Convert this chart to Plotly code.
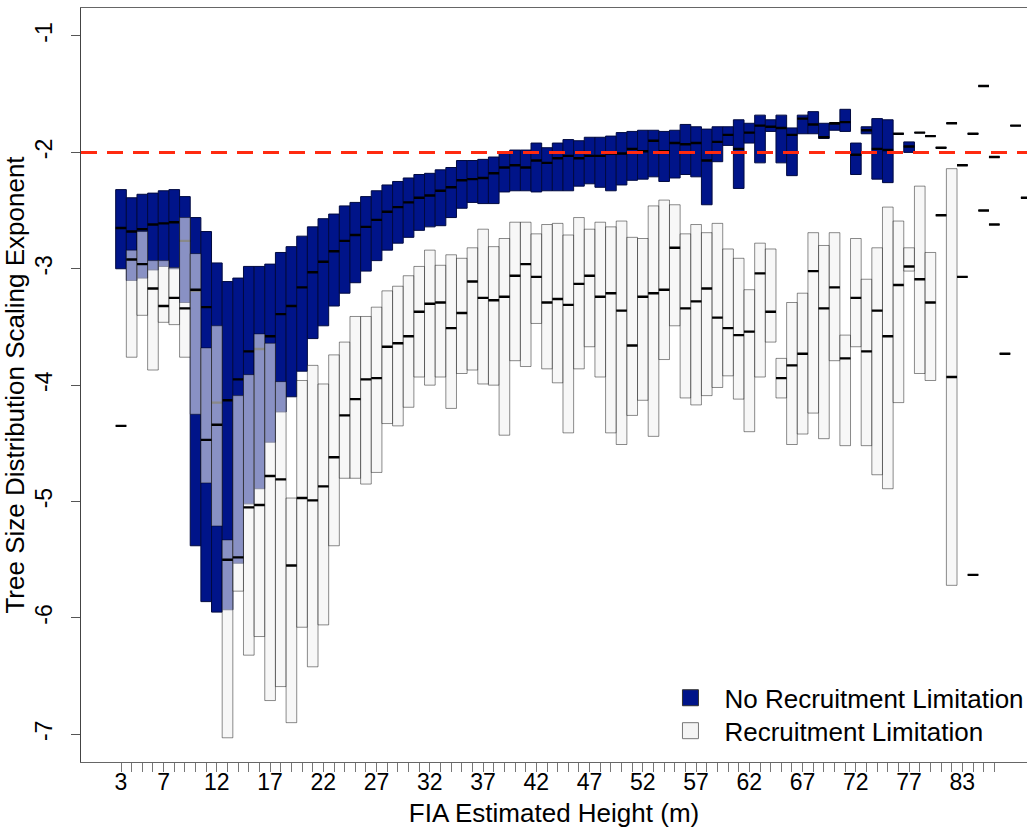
import plotly.graph_objects as go

# Box positions along the height axis (one per height class)
positions = list(range(1, 87))
tick_positions = list(range(1, 84))
label_positions = [1, 5, 10, 15, 20, 25, 30, 35, 40, 45, 50, 55, 60, 65, 70, 75, 80]
label_text = ["3", "7", "12", "17", "22", "27", "32", "37", "42", "47",
              "52", "57", "62", "67", "72", "77", "83"]

# No recruitment limitation: upper quartile, median, lower quartile
blue_hi = [
    -2.32, -2.39, -2.36, -2.35, -2.33, -2.32, -2.38, -2.56, -2.68, -2.95,
    -3.11, -3.08, -2.98, -2.98, -2.96, -2.86, -2.81, -2.72, -2.64, -2.57,
    -2.53, -2.46, -2.43, -2.38, -2.33, -2.28, -2.25, -2.22, -2.19, -2.18,
    -2.15, -2.13, -2.07, -2.07, -2.06, -2.04, -2.01, -1.98, -1.98, -1.92,
    -1.96, -1.92, -1.89, -1.90, -1.87, -1.87, -1.86, -1.83, -1.82, -1.81,
    -1.81, -1.82, -1.81, -1.76, -1.78, -1.80, -1.78, -1.78, -1.72, -1.75,
    -1.68, -1.72, -1.68, -1.79, -1.68, -1.65, -1.75, -1.75, -1.63, -1.92,
    -1.78, -1.71, -1.72, -1.84, -1.91, -1.83, -1.86, -1.96, -1.75, -2.11,
    -1.84, -1.43, -2.04, None, -1.77, -2.39]
blue_med = [
    -2.65, -2.68, -2.66, -2.62, -2.61, -2.60, -2.76, -3.19, -3.33, -4.15,
    -4.13, -3.95, -3.71, -3.69, -3.58, -3.39, -3.32, -3.16, -3.03, -2.94,
    -2.85, -2.76, -2.71, -2.64, -2.58, -2.51, -2.47, -2.43, -2.39, -2.37,
    -2.33, -2.30, -2.24, -2.23, -2.22, -2.18, -2.13, -2.11, -2.13, -2.07,
    -2.09, -2.05, -2.03, -2.05, -2.03, -2.03, -2.01, -2.01, -1.97, -1.99,
    -1.90, -1.99, -1.92, -1.93, -1.92, -2.07, -1.91, -1.85, -1.97, -1.83,
    -1.77, -1.78, -1.79, -1.85, -1.71, -1.76, -1.87, -1.75, -1.74, -2.02,
    -1.81, -1.97, -1.98, -1.84, -1.95, -1.83, -1.86, -1.96, -1.75, -2.11,
    -1.84, -1.43, -2.04, None, -1.77, -2.39]
blue_lo = [
    -3.00, -3.10, -3.08, -3.01, -2.98, -3.00, -3.29, -5.38, -5.86, -5.95,
    -5.93, -5.53, -5.02, -4.89, -4.49, -4.23, -4.10, -3.88, -3.60, -3.49,
    -3.32, -3.21, -3.12, -3.02, -2.93, -2.84, -2.78, -2.73, -2.67, -2.64,
    -2.63, -2.56, -2.48, -2.43, -2.44, -2.44, -2.34, -2.33, -2.33, -2.34,
    -2.33, -2.33, -2.33, -2.29, -2.27, -2.30, -2.33, -2.28, -2.24, -2.23,
    -2.21, -2.25, -2.22, -2.19, -2.21, -2.45, -2.08, -1.94, -2.31, -1.92,
    -2.09, -1.82, -2.09, -2.20, -1.84, -1.84, -1.88, -1.81, -1.82, -2.19,
    -1.84, -2.23, -2.26, -1.84, -2.00, -1.83, -1.86, -1.96, -1.75, -2.11,
    -1.84, -1.43, -2.04, None, -1.77, -2.39]

# Recruitment limitation: upper quartile, median, lower quartile
gray_hi = [
    -4.35, -2.84, -2.68, -2.93, -2.93, -2.99, -2.56, -2.87, -3.68, -3.49,
    -5.33, -4.09, -3.91, -3.56, -3.64, -3.97, -4.97, -3.96, -3.83, -3.99,
    -3.74, -3.63, -3.41, -3.41, -3.33, -3.19, -3.15, -3.06, -2.98, -2.84,
    -2.97, -2.88, -2.91, -2.82, -2.66, -2.81, -2.74, -2.60, -2.60, -2.70,
    -2.62, -2.61, -2.71, -2.56, -2.66, -2.60, -2.64, -2.59, -2.73, -2.74,
    -2.46, -2.41, -2.45, -2.70, -2.62, -2.69, -2.61, -2.83, -2.91, -3.18,
    -2.78, -2.83, -3.77, -3.29, -3.21, -2.69, -2.80, -2.69, -3.57, -2.74,
    -3.09, -2.82, -2.47, -2.59, -2.82, -2.29, -2.86, -2.54, -2.14, -3.07,
    -5.63, -2.50, -2.62, -3.73, None, None]
gray_med = [
    -4.35, -2.92, -2.96, -3.17, -3.32, -3.25, -3.34, -3.18, -4.47, -4.34,
    -5.50, -5.48, -5.05, -5.03, -4.78, -4.81, -5.55, -4.97, -4.99, -4.87,
    -4.62, -4.26, -4.12, -3.95, -3.94, -3.67, -3.64, -3.58, -3.37, -3.30,
    -3.29, -3.51, -3.38, -3.11, -3.25, -3.27, -3.24, -3.06, -2.96, -3.07,
    -3.29, -3.26, -3.31, -3.13, -3.06, -3.24, -3.21, -3.36, -3.66, -3.24,
    -3.21, -3.18, -2.82, -3.34, -3.28, -3.17, -3.42, -3.51, -3.57, -3.54,
    -3.04, -3.37, -3.94, -3.83, -3.73, -3.02, -3.34, -3.16, -3.77, -3.25,
    -3.71, -3.36, -3.58, -3.14, -2.98, -3.09, -3.29, -2.54, -3.93, -3.07,
    -5.63, -2.50, -2.62, -3.73, None, None]
gray_lo = [
    -4.35, -3.76, -3.40, -3.87, -3.46, -3.48, -3.76, -4.25, -4.84, -5.21,
    -7.03, -5.77, -6.32, -6.16, -6.71, -6.59, -6.90, -6.08, -6.42, -6.06,
    -5.38, -4.80, -4.80, -4.85, -4.75, -4.33, -4.35, -4.19, -3.93, -4.00,
    -3.93, -4.20, -3.90, -3.87, -3.99, -4.00, -4.43, -3.79, -3.84, -3.47,
    -3.86, -3.98, -4.41, -3.86, -3.67, -3.93, -4.41, -4.51, -4.26, -4.13,
    -4.44, -3.78, -3.49, -4.11, -4.17, -4.09, -4.02, -3.92, -4.12, -4.40,
    -3.93, -3.63, -4.11, -4.51, -4.42, -4.24, -4.46, -3.79, -4.52, -3.67,
    -4.52, -4.77, -4.89, -4.15, -3.02, -3.90, -3.96, -2.54, -5.72, -3.07,
    -5.63, -2.50, -2.62, -3.73, None, None]

reference_exponent = -2
y_ticks = [-1, -2, -3, -4, -5, -6, -7]

NAVY = "#001489"
NAVY_EDGE = "#000a40"
LIGHT_FILL = "rgba(241,241,241,0.57)"
LIGHT_EDGE = "rgba(0,0,0,0.45)"
FONT = "Liberation Sans, Arial, Helvetica, sans-serif"
BOX_W = 1.0


def present(*cols):
    rows = [r for r in zip(positions, *cols) if r[1] is not None]
    return [list(c) for c in zip(*rows)]


def quartile_boxes(hi, med, lo, fill, edge, name):
    x, h, m, l = present(hi, med, lo)
    return go.Box(
        x=x, q1=l, median=m, q3=h, lowerfence=l, upperfence=h,
        orientation="v", width=BOX_W, whiskerwidth=0,
        fillcolor=fill, line=dict(color=edge, width=1),
        name=name, showlegend=False, hoverinfo="skip", boxpoints=False,
    )


def median_bars(med, name):
    x, m = present(med)
    return go.Box(
        x=x, q1=m, median=m, q3=m, lowerfence=m, upperfence=m,
        orientation="v", width=BOX_W, whiskerwidth=0,
        fillcolor="rgba(0,0,0,0)", line=dict(color="#000000", width=2.4),
        name=name, showlegend=False, hoverinfo="skip", boxpoints=False,
    )


fig = go.Figure()
fig.add_trace(quartile_boxes(blue_hi, blue_med, blue_lo, NAVY, NAVY_EDGE, "No Recruitment Limitation"))
fig.add_trace(median_bars(blue_med, "No Recruitment Limitation median"))
fig.add_trace(quartile_boxes(gray_hi, gray_med, gray_lo, LIGHT_FILL, LIGHT_EDGE, "Recruitment Limitation"))
fig.add_trace(median_bars(gray_med, "Recruitment Limitation median"))

# legend entries, one legend each so the row spacing can be set
fig.add_trace(go.Scatter(
    x=[None], y=[None], mode="markers", name="No Recruitment Limitation", legend="legend",
    marker=dict(symbol="square", size=16, color=NAVY, line=dict(color="#333333", width=1)),
))
fig.add_trace(go.Scatter(
    x=[None], y=[None], mode="markers", name="Recruitment Limitation", legend="legend2",
    marker=dict(symbol="square", size=16, color="#f4f4f4", line=dict(color="#777777", width=1)),
))

fig.add_shape(
    type="line", xref="paper", x0=0, x1=1, yref="y",
    y0=reference_exponent, y1=reference_exponent,
    line=dict(color="#ff2a10", width=3, dash="16px,10px"), layer="above",
)

tick_text = [label_text[label_positions.index(p)] if p in label_positions else "" for p in tick_positions]

legend_style = dict(
    xref="container", yref="container", xanchor="left", yanchor="top",
    font=dict(size=26, family=FONT), bgcolor="rgba(0,0,0,0)",
    itemwidth=58, tracegroupgap=0,
)

fig.update_layout(
    width=1027, height=828,
    margin=dict(l=81, r=0, t=8, b=66, pad=0, autoexpand=False),
    paper_bgcolor="white", plot_bgcolor="white",
    font=dict(family=FONT, color="#000000"),
    boxmode="overlay",
    legend=dict(x=0.6392, y=0.1856, **legend_style),
    legend2=dict(x=0.6392, y=0.1458, **legend_style),
    xaxis=dict(
        range=[-2.756, 86.07], tickmode="array", tickvals=tick_positions, ticktext=tick_text,
        ticks="outside", ticklen=9, tickwidth=1, tickcolor="#777777",
        showline=True, linecolor="#666666", linewidth=1, mirror=True,
        showgrid=False, zeroline=False, ticklabelstandoff=-10,
        tickfont=dict(size=23, family=FONT),
        title=dict(text="FIA Estimated Height (m)", font=dict(size=26, family=FONT), standoff=16),
    ),
    yaxis=dict(
        range=[-7.238, -0.7595], tickmode="array", tickvals=y_ticks,
        ticktext=[str(v) for v in y_ticks], tickangle=-90,
        ticks="outside", ticklen=9, tickwidth=1, tickcolor="#555555",
        showline=True, linecolor="#444444", linewidth=1,
        showgrid=False, zeroline=False, ticklabelstandoff=10,
        tickfont=dict(size=23, family=FONT),
        title=dict(text="Tree Size Distribution Scaling Exponent", font=dict(size=26, family=FONT), standoff=2),
    ),
)

fig.write_html("out.html")
